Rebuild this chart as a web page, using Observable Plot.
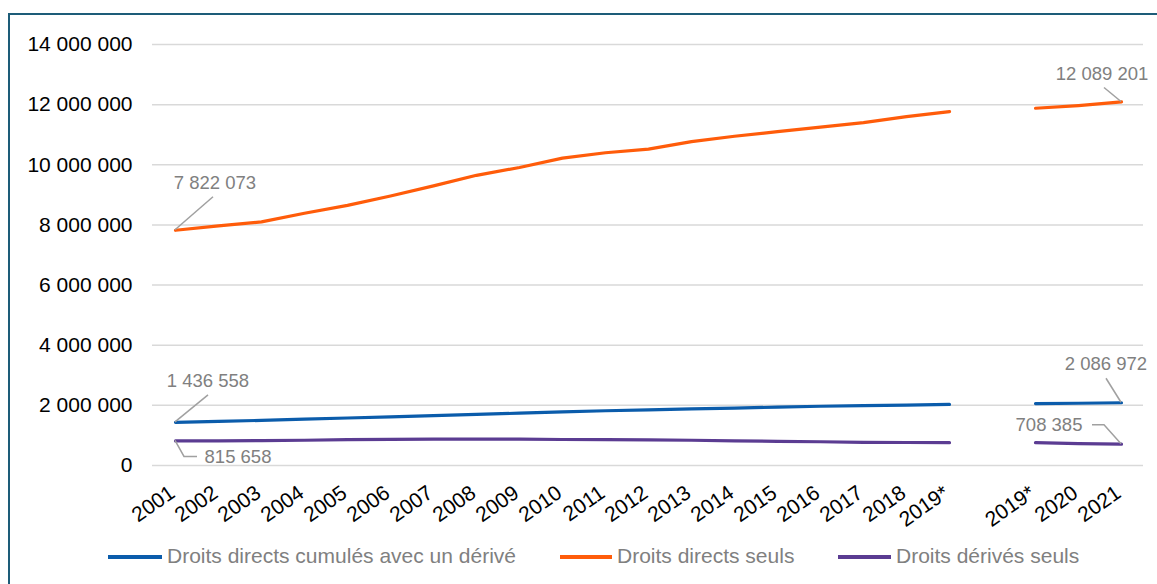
<!DOCTYPE html>
<html>
<head>
<meta charset="utf-8">
<script src="https://cdn.jsdelivr.net/npm/d3@7"></script>
<script src="https://cdn.jsdelivr.net/npm/@observablehq/plot@0.6"></script>
<style>
  html, body { margin: 0; padding: 0; background: #fff; overflow: hidden; }
  body { width: 1157px; height: 584px; position: relative; font-family: "Liberation Sans", Arial, sans-serif; }
  #frame { position: absolute; left: 8px; top: 13px; width: 1160px; height: 600px; border: 2px solid #1d5c78; box-sizing: border-box; }
  #chart { position: absolute; left: 0; top: 0; }
  #legend { position: absolute; top: 543px; left: 0; width: 1157px; height: 28px; font-size: 21px; color: #808080; white-space: nowrap; }
  .sw { position: absolute; height: 3.5px; top: 12px; }
  .tx { position: absolute; top: 1px; line-height: 24px; }
</style>
</head>
<body>
<div id="frame"></div>
<div id="chart"></div>
<div id="legend"></div>
<script>
// Categories (the "gap" key is the empty slot between the two 2019* points)
const categories = ["2001","2002","2003","2004","2005","2006","2007","2008","2009","2010",
  "2011","2012","2013","2014","2015","2016","2017","2018","2019*","gap","2019*b","2020","2021"];
const tickLabels = ["2001","2002","2003","2004","2005","2006","2007","2008","2009","2010",
  "2011","2012","2013","2014","2015","2016","2017","2018","2019*","","2019*","2020","2021"];

const seriesNames = ["Droits directs cumulés avec un dérivé", "Droits directs seuls", "Droits dérivés seuls"];
const seriesColors = ["#0b5cab", "#ff5c0a", "#5b3c92"];

const cumules = [1436558,1470000,1500000,1540000,1580000,1620000,1660000,1700000,1740000,1780000,
  1820000,1850000,1880000,1910000,1940000,1970000,1990000,2010000,2030000,null,2060000,2070000,2086972];
const directs = [7822073,7970000,8100000,8390000,8650000,8960000,9300000,9650000,9910000,10220000,
  10400000,10520000,10770000,10950000,11100000,11250000,11400000,11600000,11770000,null,11880000,11970000,12089201];
const derives = [815658,820000,830000,840000,860000,870000,875000,880000,875000,865000,
  860000,850000,840000,820000,805000,790000,770000,765000,760000,null,760000,730000,708385];

const yTicks = [0,2000000,4000000,6000000,8000000,10000000,12000000,14000000];

// Data labels: [series index, category index]
const labelPoints = [[1,0],[0,0],[2,0],[1,22],[0,22],[2,22]];

const valuesBySeries = [cumules, directs, derives];
const rows = [];
valuesBySeries.forEach((vals, s) => vals.forEach((v, i) => rows.push({series: seriesNames[s], cat: categories[i], value: v})));

const fmt = v => d3.format(",")(v).replace(/,/g, " ");

// label styles (pixel offsets relative to the point): text offset and leader path
const labelStyle = [
  {dx: 40, dy: -47, path: [[0,0],[38,-33]]},
  {dx: 33, dy: -41, path: [[0,0],[33,-27]]},
  {dx: 63, dy: 16, path: [[0,0],[9,16],[22,16]]},
  {dx: -19, dy: -28, path: [[0,0],[-17,-14]]},
  {dx: -15, dy: -39, path: [[0,0],[-15,-24]]},
  {dx: -72, dy: -19, path: [[0,0],[-17,-19],[-29,-19]]}
];
const annots = labelPoints.map(([s, i], k) => ({cat: categories[i], value: valuesBySeries[s][i], text: fmt(valuesBySeries[s][i]), style: labelStyle[k]}));

const leaderRender = (index, scales, values, dims, ctx) => {
  const g = d3.create("svg:g").attr("fill", "none").attr("stroke", "#a0a0a0").attr("stroke-width", 1.5);
  for (const i of index) {
    const a = annots[i];
    const px = scales.x(a.cat), py = scales.y(a.value);
    g.append("path").attr("d", "M" + a.style.path.map(([dx, dy]) => (px + dx) + "," + (py + dy)).join("L"));
    g.append("text").attr("x", px + a.style.dx).attr("y", py + a.style.dy).attr("dy", "0.35em")
      .attr("text-anchor", "middle").attr("fill", "#808080").attr("stroke", "none")
      .attr("font-size", 18.5).text(a.text);
  }
  return g.node();
};

const chart = Plot.plot({
  width: 1157,
  height: 530,
  marginTop: 44,
  marginBottom: 65,
  marginLeft: 152,
  marginRight: 14,
  style: {fontFamily: "Liberation Sans, Arial, sans-serif", fontSize: "21px", color: "#000", background: "transparent"},
  x: {type: "point", domain: categories, padding: 0.5, label: null},
  y: {domain: [0, 14000000], label: null},
  color: {domain: seriesNames, range: seriesColors},
  marks: [
    Plot.gridY(yTicks, {stroke: "#d9d9d9", strokeWidth: 1.5, strokeOpacity: 1}),
    Plot.axisY(yTicks, {tickSize: 0, tickPadding: 20, tickFormat: fmt, fontSize: 21}),
    Plot.axisX({tickSize: 0, tickPadding: 25, dx: -3, tickRotate: -35, fontSize: 21, tickFormat: (d) => tickLabels[categories.indexOf(d)]}),
    Plot.line(rows, {x: "cat", y: "value", z: "series", stroke: "series", strokeWidth: 3.2, strokeLinecap: "round", strokeLinejoin: "round"}),
    Plot.dot(annots, {x: "cat", y: "value", r: 0, render: leaderRender})
  ]
});
document.getElementById("chart").appendChild(chart);

// Legend layout (left edges of swatch and text for each item)
const legendPos = [[108, 167], [560, 617], [838, 896]];
const legend = document.getElementById("legend");
seriesNames.forEach((name, i) => {
  const sw = document.createElement("div");
  sw.className = "sw";
  sw.style.background = seriesColors[i];
  sw.style.left = legendPos[i][0] + "px";
  sw.style.width = (legendPos[i][1] - legendPos[i][0] - 5) + "px";
  const tx = document.createElement("span");
  tx.className = "tx";
  tx.style.left = legendPos[i][1] + "px";
  tx.textContent = name;
  legend.appendChild(sw); legend.appendChild(tx);
});
</script>
</body>
</html>
